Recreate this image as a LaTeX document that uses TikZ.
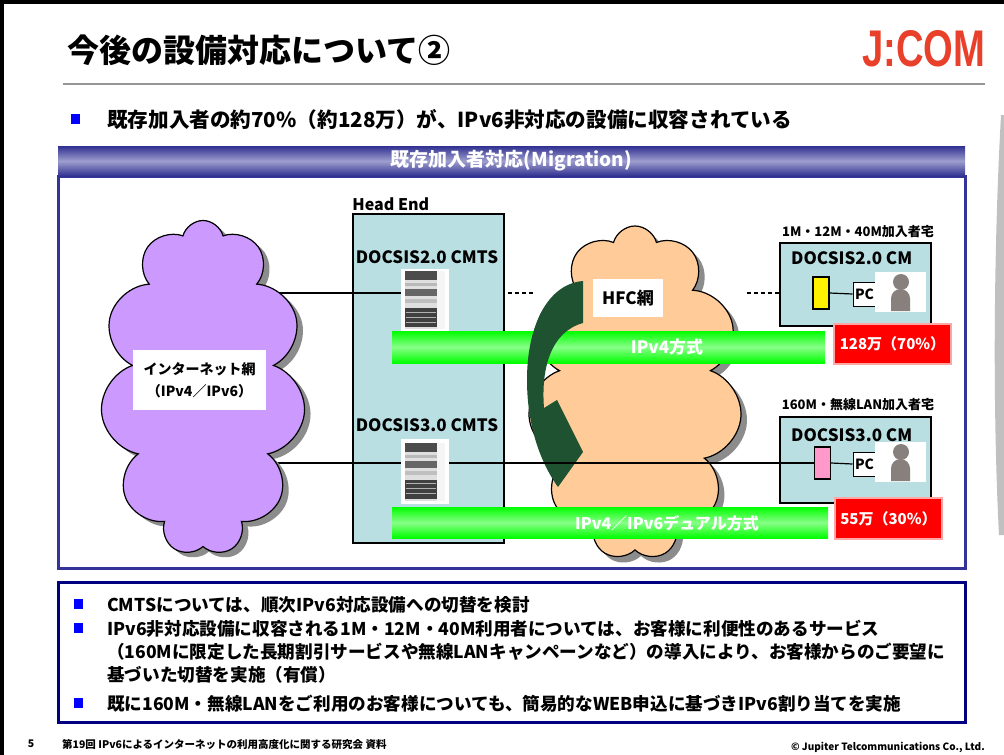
\documentclass[tikz,border=0pt]{standalone}
\usepackage{fontspec}
\setmainfont{Noto Sans CJK JP}
\newfontfamily\logofont{Liberation Sans}
\usetikzlibrary{shapes.symbols, positioning}

\definecolor{jcomred}{RGB}{232,64,42}
\definecolor{rulegray}{RGB}{150,150,150}
\definecolor{bandnavy}{RGB}{48,48,145}
\definecolor{bandlight}{RGB}{158,158,206}
\definecolor{frameblue}{RGB}{51,51,153}
\definecolor{boxnavy}{RGB}{0,0,128}
\definecolor{hecyan}{RGB}{185,223,227}
\definecolor{inetpurple}{RGB}{204,153,255}
\definecolor{hfcpeach}{RGB}{255,204,153}
\definecolor{shadowgray}{RGB}{140,140,140}
\definecolor{arrowgreen}{RGB}{30,82,48}
\definecolor{barlime}{RGB}{0,255,0}
\definecolor{barpale}{RGB}{135,255,135}
\definecolor{persongray}{RGB}{135,128,124}
\definecolor{modempink}{RGB}{255,153,204}
\definecolor{crescent}{RGB}{192,192,192}

\tikzstyle{wire} = [line width=1.2pt]
\tikzstyle{dashwire} = [line width=1.2pt, dash pattern=on 4.5pt off 2.5pt]

\tikzset{
  % small CMTS chassis
  rack/.pic={
    \fill[gray!25] (-20,-29) rectangle (20,29);
    \fill[gray!8] (12,-29) rectangle (20,29);
    \fill[black!70] (-20,-29) rectangle (12,-20);
    \fill[gray!55] (-20,-17) rectangle (12,-14);
    \fill[black!60] (-20,-11) rectangle (12,-4);
    \fill[gray!50] (-20,-1) rectangle (12,3);
    \fill[black!75] (-20,8) rectangle (12,27);
    \foreach \y in {12,17,22}
      \draw[gray!60, line width=0.6pt] (-19,\y) -- (11,\y);
  },
  % subscriber icon
  user/.pic={
    \fill[white] (-25.5,-20) rectangle (25.5,20);
    \fill[persongray] (0.5,-10) circle (8);
    \fill[persongray] (-9.5,19) -- (-9.5,6.5) arc[start angle=180, end angle=360, radius=9.5] -- (9.5,19) -- cycle;
  }
}

\begin{document}
\begin{tikzpicture}[x=1pt, y=-1pt,
  txt/.style={inner sep=0pt, font=\fontsize{#1}{#1}\selectfont\bfseries},
  bullet/.style={rectangle, fill=blue, minimum width=9pt, minimum height=10pt, inner sep=0pt},
  band/.style={rectangle, top color=bandnavy, bottom color=bandnavy, middle color=bandlight,
    text=white, minimum width=907pt, minimum height=30pt, inner sep=0pt,
    font=\fontsize{19}{19}\selectfont\bfseries},
  cyanbox/.style={rectangle, draw, line width=1.5pt, fill=hecyan, inner sep=0pt},
  netcloud/.style={cloud, cloud puffs=11, cloud ignores aspect, draw, line width=1.2pt, inner sep=0pt},
  cloudshade/.style={cloud, cloud puffs=11, cloud ignores aspect, fill=shadowgray, inner sep=0pt},
  labelbox/.style={rectangle, fill=white, inner sep=0pt},
  server/.style={rectangle, fill=white, minimum width=48pt, minimum height=62pt, inner sep=0pt},
  lane/.style={rectangle, top color=barlime, bottom color=barlime, middle color=barpale, inner sep=0pt},
  modem/.style={rectangle, draw, line width=1.2pt, minimum width=16pt, minimum height=32pt, inner sep=0pt},
  pcbox/.style={rectangle, draw, fill=white, line width=1pt, minimum width=32pt, minimum height=24pt,
    text width=28pt, inner xsep=2pt, inner ysep=0pt, align=left, font=\fontsize{14}{14}\selectfont\bfseries},
  share/.style={rectangle, fill=red, draw=red!35, line width=1.5pt, text=white, inner sep=0pt,
    font=\fontsize{15}{15}\selectfont\bfseries}
]
\useasboundingbox (0,0) rectangle (1004,755);

% page edge
\draw[line width=4pt] (2,755) -- (2,2) -- (1004,2);
\fill[crescent] (1001,115) .. controls (993,260) and (993,420) .. (999,535) -- (1004,535) -- (1004,115) -- cycle;

% title and logo
\node[txt=32, anchor=base west] (title) at (67,62) {今後の設備対応について②};
\node[anchor=north west, inner sep=0pt, text=jcomred] (logo) at (862,30) {\resizebox{123pt}{36pt}{\logofont\bfseries J:COM}};
\draw[rulegray, line width=2.5pt] (63,84) -- (985,84);

\node[bullet] (b0) at (75,119) {};
\node[txt=20.6, anchor=base west] (lead) at (107,127) {既存加入者の約70\%（約128万）が、IPv6非対応の設備に収容されている};

% migration panel
\draw[frameblue, line width=3pt, fill=white] (58,176) rectangle (965,568);
\node[band] (band) at (511.5,161) {既存加入者対応(Migration)};

% subscriber homes
\node[cyanbox, minimum width=151pt, minimum height=83pt] (cmA) at (855.5,284.5) {};
\node[txt=13] (homeA) at (858,232) {1M・12M・40M加入者宅};
\node[txt=17, anchor=west] (cmAname) at (791,258) {DOCSIS2.0 CM};
\node[modem, fill=yellow] (modemA) at (821,293) {};
\node[pcbox] (pcA) at (869,294) {PC};
\pic at (900.5,292) {user};

\node[cyanbox, minimum width=151pt, minimum height=86pt] (cmB) at (855.5,460) {};
\node[txt=13] (homeB) at (858,405) {160M・無線LAN加入者宅};
\node[txt=17, anchor=west] (cmBname) at (791,435) {DOCSIS3.0 CM};
\node[modem, fill=modempink] (modemB) at (822.5,463) {};
\node[pcbox] (pcB) at (869,464) {PC};
\pic at (900.5,462) {user};

% head end
\node[cyanbox, minimum width=151pt, minimum height=329pt] (headend) at (428.5,378.5) {};
\node[txt=16, anchor=south west] (helabel) at ([yshift=2pt]headend.north west) {Head End};
\node[txt=17] (cmtsAname) at (427,257) {DOCSIS2.0 CMTS};
\node[txt=17] (cmtsBname) at (427,425) {DOCSIS3.0 CMTS};

% HFC network
\node[cloudshade, minimum width=214pt, minimum height=334pt] at (641,399) {};
\node[netcloud, fill=hfcpeach, minimum width=214pt, minimum height=334pt] (hfc) at (635,393) {};
\node[labelbox, txt=17, minimum width=70pt, minimum height=38pt] (hfclabel) at (628,298) {HFC網};

% CMTS units
\node[server] (cmtsA) at (425,300) {};
\pic at (cmtsA) {rack};
\node[server, minimum height=65pt] (cmtsB) at (425,471.5) {};
\pic at (cmtsB) {rack};

% internet
\coordinate (inetc) at (203,388);
\draw[wire] (inetc |- modemA.west) -- (cmtsA.west |- modemA.west);
\draw[wire] (inetc |- modemB.west) -- (cmtsB.west |- modemB.west);
\node[cloudshade, minimum width=205pt, minimum height=335pt] at ([xshift=6pt, yshift=-5pt]inetc) {};
\node[netcloud, fill=inetpurple, minimum width=205pt, minimum height=335pt] (inet) at (inetc) {};
\node[labelbox, minimum width=133pt, minimum height=60pt, align=center,
  font=\fontsize{14}{22}\selectfont\bfseries] (inetlabel) at (199.5,380) {インターネット網\\（IPv4／IPv6）};

% service lanes
\node[lane, minimum width=433pt, minimum height=32pt] (laneA) at (608.5,347) {};
\node[txt=17, text=white] (laneAtext) at (667,347) {IPv4方式};
\node[lane, minimum width=436pt, minimum height=31pt] (laneB) at (610,522.5) {};
\node[txt=16, text=white] (laneBtext) at (667,523) {IPv4／IPv6デュアル方式};

% migration arrow
\fill[arrowgreen] (583,281) .. controls (548,284) and (527,325) .. (527,380)
  .. controls (527,425) and (540,462) .. (558,487)
  -- (583,452) -- (557,400) -- (544,408)
  .. controls (541,370) and (550,332) .. (583,323) -- cycle;

% links
\draw[wire] (cmtsB.east |- modemB.west) -- (modemB.west);
\draw[wire] (modemA.east) -- (pcA.west);
\draw[wire] (modemB.east) -- (pcB.west);
\draw[dashwire] (headend.east |- modemA.west) ++(3,0) -- (hfc.west |- modemA.west);
\draw[dashwire] (hfc.east |- modemA.west) ++(10,0) -- (cmA.west |- modemA.west);

% subscriber counts
\node[share, minimum width=117pt, minimum height=40pt] (shareA) at (892.5,344) {128万（70\%）};
\node[share, minimum width=107pt, minimum height=41pt] (shareB) at (888.5,518.5) {55万（30\%）};

% notes
\draw[boxnavy, line width=3pt, fill=white] (58,582) rectangle (965,722);
\node[bullet] (b1) at (78,604) {};
\node[txt=17.6, anchor=base west] (note1) at (107,611) {CMTSについては、順次IPv6対応設備への切替を検討};
\node[bullet] (b2) at (78,628) {};
\node[txt=17.6, anchor=base west] (note2a) at (107,635) {IPv6非対応設備に収容される1M・12M・40M利用者については、お客様に利便性のあるサービス};
\node[txt=17.6, anchor=base west] (note2b) at (107,658) {（160Mに限定した長期割引サービスや無線LANキャンペーンなど）の導入により、お客様からのご要望に};
\node[txt=17.6, anchor=base west] (note2c) at (107,681) {基づいた切替を実施（有償）};
\node[bullet] (b3) at (78,703) {};
\node[txt=17.6, anchor=base west] (note3) at (107,710) {既に160M・無線LANをご利用のお客様についても、簡易的なWEB申込に基づきIPv6割り当てを実施};

% footer
\node[txt=10.5] (pageno) at (31,744) {5};
\node[txt=10.5, anchor=west] (meeting) at (62,744) {第19回 IPv6によるインターネットの利用高度化に関する研究会 資料};
\node[txt=10, anchor=east] (copy) at (985,747) {© Jupiter Telcommunications Co., Ltd.};
\end{tikzpicture}
\end{document}
